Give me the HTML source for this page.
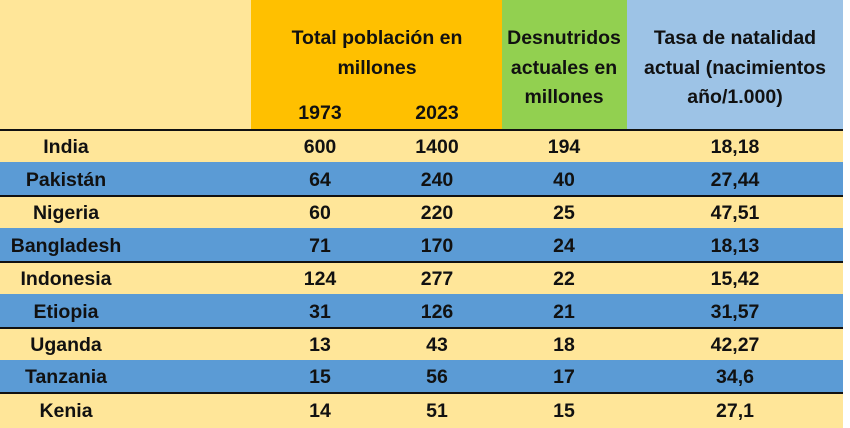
<!DOCTYPE html>
<html><head><meta charset="utf-8"><style>
body{margin:0;width:850px;height:428px;overflow:hidden;background:#fff;font-family:"Liberation Sans",sans-serif;font-weight:bold;color:#111;}
.a{position:absolute;}
.t{position:absolute;transform:translateX(-50%);white-space:nowrap;font-size:19.5px;line-height:20px;}
</style></head><body>
<div class="a" style="left:0;top:0;width:850px;height:428px;background:#FFE699"></div>
<div class="a" style="left:251px;top:0;width:251px;height:129px;background:#FFC000"></div>
<div class="a" style="left:502px;top:0;width:125px;height:129px;background:#92D050"></div>
<div class="a" style="left:627px;top:0;width:216px;height:129px;background:#9DC3E6"></div>
<div class="a" style="left:843px;top:0;width:7px;height:428px;background:#fff"></div>
<div class="a" style="left:0;top:129px;width:843px;height:2px;background:#111"></div>
<div class="a" style="left:0;top:162px;width:843px;height:33px;background:#5B9BD5"></div>
<div class="a" style="left:0;top:195px;width:843px;height:2px;background:#111"></div>
<div class="a" style="left:0;top:228px;width:843px;height:33px;background:#5B9BD5"></div>
<div class="a" style="left:0;top:261px;width:843px;height:2px;background:#111"></div>
<div class="a" style="left:0;top:294px;width:843px;height:33px;background:#5B9BD5"></div>
<div class="a" style="left:0;top:327px;width:843px;height:2px;background:#111"></div>
<div class="a" style="left:0;top:360px;width:843px;height:32px;background:#5B9BD5"></div>
<div class="a" style="left:0;top:392px;width:843px;height:2px;background:#111"></div>

<div class="t" style="left:377px;top:28px">Total población en</div>
<div class="t" style="left:377px;top:58px">millones</div>
<div class="t" style="left:320px;top:103px">1973</div>
<div class="t" style="left:437px;top:103px">2023</div>
<div class="t" style="left:564px;top:28px">Desnutridos</div>
<div class="t" style="left:564px;top:58px">actuales en</div>
<div class="t" style="left:564px;top:87px">millones</div>
<div class="t" style="left:735px;top:28px">Tasa de natalidad</div>
<div class="t" style="left:735px;top:58px">actual (nacimientos</div>
<div class="t" style="left:735px;top:87px">año/1.000)</div>

<div id="rows"></div>
<script>
var d=[["India",600,1400,194,"18,18",137],["Pakistán",64,240,40,"27,44",170],["Nigeria",60,220,25,"47,51",203],["Bangladesh",71,170,24,"18,13",236],["Indonesia",124,277,22,"15,42",269],["Etiopia",31,126,21,"31,57",302],["Uganda",13,43,18,"42,27",335],["Tanzania",15,56,17,"34,6",367],["Kenia",14,51,15,"27,1",401]];
var h="";d.forEach(function(r){var y=r[5];var xs=[66,320,437,564,735];for(var i=0;i<5;i++)h+='<div class="t" style="left:'+xs[i]+'px;top:'+y+'px">'+r[i]+'</div>';});
document.getElementById("rows").innerHTML=h;
</script>
</body></html>
